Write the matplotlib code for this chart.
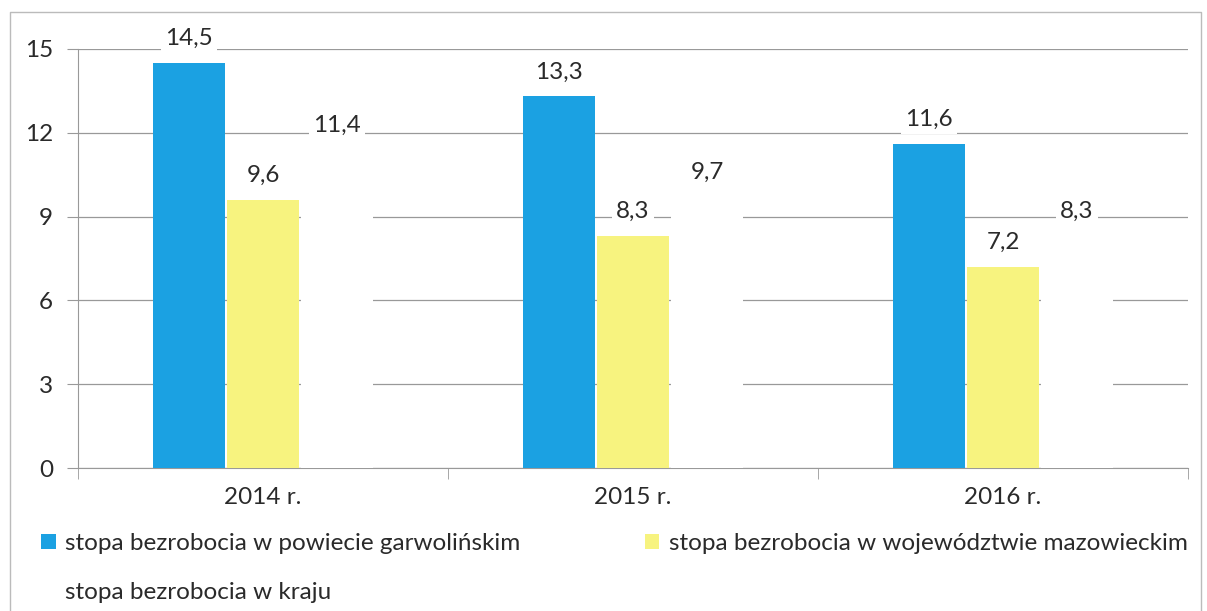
import matplotlib.pyplot as plt
import numpy as np
from matplotlib.lines import Line2D
from matplotlib.patches import Patch

plt.rcParams['font.family'] = ['Lato', 'DejaVu Sans']

years = ['2014 r.', '2015 r.', '2016 r.']
powiat = [14.5, 13.3, 11.6]
wojewodztwo = [9.6, 8.3, 7.2]
kraj = [11.4, 9.7, 8.3]
series_names = ['stopa bezrobocia w powiecie garwolińskim',
                'stopa bezrobocia w województwie mazowieckim',
                'stopa bezrobocia w kraju']
colors = ['#1BA1E2', '#F7F37F', '#FFFFFF']

fig = plt.figure(figsize=(12.07, 6.11), dpi=100)
ax = fig.add_axes([0.0646, 0.234, 0.9197, 0.686])

x = np.arange(len(years))
w = 0.195
offsets = [-0.2, 0.0, 0.2]
text_col = '#2a2a2a'
fs = 17.5

for vals, off, c in zip([powiat, wojewodztwo, kraj], offsets, colors):
    bars = ax.bar(x + off, vals, width=w, color=c, zorder=3)
    for b, v in zip(bars, vals):
        ax.text(b.get_x() + b.get_width() / 2, v + 0.5, f'{v:.1f}'.replace('.', ','),
                ha='center', va='bottom', fontsize=fs, color=text_col, zorder=5,
                bbox=dict(facecolor='white', edgecolor='none', pad=3))

ax.set_xlim(-0.5, 2.5)
ax.set_ylim(0, 15)
ax.set_yticks(range(0, 16, 3))
ax.set_xticks(x)
ax.set_xticklabels(years)
ax.set_xticks([-0.5, 0.5, 1.5, 2.5], minor=True)
ax.tick_params(axis='x', which='major', length=0, pad=14, labelsize=fs, labelcolor=text_col)
ax.tick_params(axis='x', which='minor', length=8, color='#999999')
ax.tick_params(axis='y', length=8, color='#999999', labelsize=fs, labelcolor=text_col, pad=10)
ax.yaxis.grid(True, color='#999999', linewidth=0.9, zorder=0)
ax.set_axisbelow(True)
for s in ['top', 'right']:
    ax.spines[s].set_visible(False)
for s in ['left', 'bottom']:
    ax.spines[s].set_color('#999999')

handles = [Patch(facecolor=c, edgecolor='none') for c in colors]
order = [0, 2, 1]
fig.legend([handles[i] for i in order], [series_names[i] for i in order],
           ncol=2, loc='upper left', bbox_to_anchor=(0.034, 0.128),
           frameon=False, fontsize=fs, handlelength=0.6, handleheight=0.6,
           handletextpad=0.4, columnspacing=5.1, labelspacing=1.15,
           labelcolor=text_col, borderaxespad=0, borderpad=0)

# outer frame of the scanned chart
fig.add_artist(Line2D([0.008, 0.008, 0.995, 0.995], [0.0, 0.98, 0.98, 0.0],
                      transform=fig.transFigure, color='#bbbbbb', linewidth=1))

fig.savefig('out.png', dpi=100)
